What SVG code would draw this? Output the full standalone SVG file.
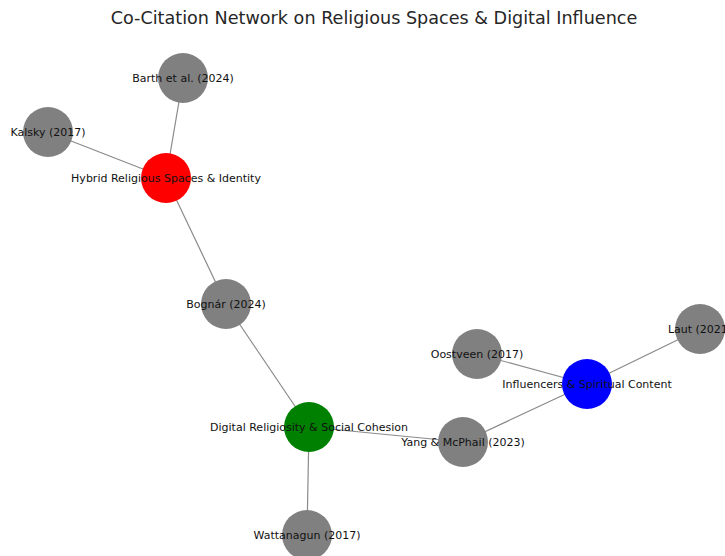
<svg xmlns="http://www.w3.org/2000/svg" width="725" height="556" viewBox="0 0 725 556">
<style>
.edge{stroke:#8a8a8a;stroke-width:1.2;fill:none}
.gray{fill:#808080}
.lbl{font-family:"DejaVu Sans",sans-serif;font-size:11px;fill:#111;text-anchor:middle;dominant-baseline:central}
.title{font-family:"DejaVu Sans",sans-serif;font-size:17.6px;fill:#262626;text-anchor:middle}
</style>
<rect width="725" height="556" fill="#fff"/>
<text class="title" x="374" y="24">Co-Citation Network on Religious Spaces &amp; Digital Influence</text>
<g id="edges">
<line class="edge" x1="166" y1="178" x2="183" y2="78"/>
<line class="edge" x1="166" y1="178" x2="48" y2="132"/>
<line class="edge" x1="166" y1="178" x2="226" y2="304"/>
<line class="edge" x1="226" y1="304" x2="309" y2="427"/>
<line class="edge" x1="309" y1="427" x2="463" y2="442"/>
<line class="edge" x1="309" y1="427" x2="307" y2="535"/>
<line class="edge" x1="463" y1="442" x2="587" y2="384"/>
<line class="edge" x1="477" y1="354" x2="587" y2="384"/>
<line class="edge" x1="700" y1="329" x2="587" y2="384"/>
</g>
<g id="barth"><circle class="gray" cx="183" cy="78" r="25"/><text class="lbl" x="183" y="78">Barth et al. (2024)</text></g>
<g id="kalsky"><circle class="gray" cx="48" cy="132" r="25"/><text class="lbl" x="48" y="132">Kalsky (2017)</text></g>
<g id="hybrid"><circle fill="#ff0000" cx="166" cy="178" r="25"/><text class="lbl" x="166" y="178">Hybrid Religious Spaces &amp; Identity</text></g>
<g id="bognar"><circle class="gray" cx="226" cy="304" r="25"/><text class="lbl" x="226" y="304">Bognár (2024)</text></g>
<g id="digital"><circle fill="#008000" cx="309" cy="427" r="25"/><text class="lbl" x="309" y="427">Digital Religiosity &amp; Social Cohesion</text></g>
<g id="wattanagun"><circle class="gray" cx="307" cy="535" r="25"/><text class="lbl" x="307" y="535">Wattanagun (2017)</text></g>
<g id="yang"><circle class="gray" cx="463" cy="442" r="25"/><text class="lbl" x="463" y="442">Yang &amp; McPhail (2023)</text></g>
<g id="oostveen"><circle class="gray" cx="477" cy="354" r="25"/><text class="lbl" x="477" y="354">Oostveen (2017)</text></g>
<g id="influencers"><circle fill="#0000ff" cx="587" cy="384" r="25"/><text class="lbl" x="587" y="384">Influencers &amp; Spiritual Content</text></g>
<g id="laut"><circle class="gray" cx="700" cy="329" r="25"/><text class="lbl" x="700" y="329">Laut (2021)</text></g>
</svg>
